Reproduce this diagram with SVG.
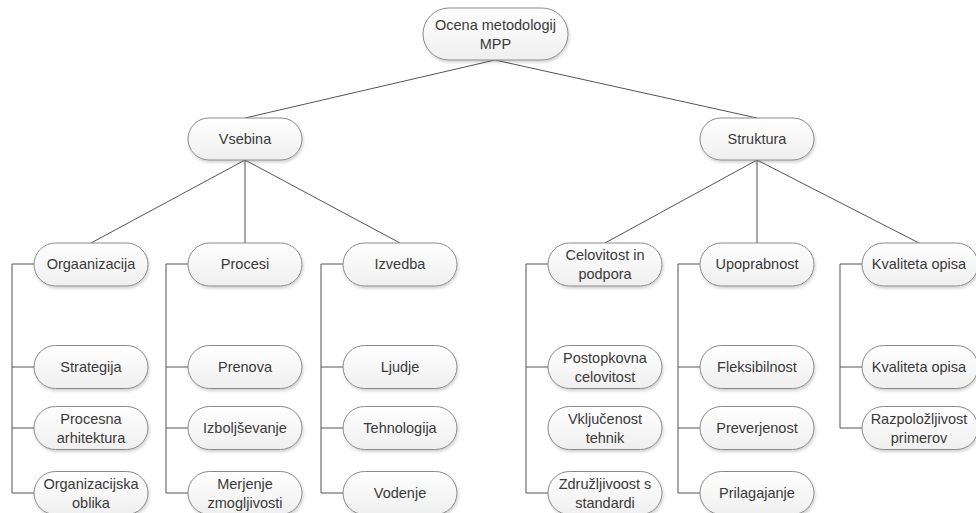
<svg xmlns="http://www.w3.org/2000/svg" width="976" height="513" viewBox="0 0 976 513">
<defs>
<linearGradient id="g" x1="0" y1="0" x2="0" y2="1">
<stop offset="0" stop-color="#ffffff"/>
<stop offset="1" stop-color="#efefef"/>
</linearGradient>
<filter id="sh" x="-10%" y="-20%" width="120%" height="150%">
<feDropShadow dx="1" dy="2" stdDeviation="1.5" flood-color="#000" flood-opacity="0.18"/>
</filter>
<style>
.n{fill:url(#g);stroke:#8a8a8a;stroke-width:1;filter:url(#sh)}
.t{font-family:"Liberation Sans",Arial,sans-serif;font-size:14.5px;fill:#3a3a3a;text-anchor:middle}
.c{fill:none;stroke:#555;stroke-width:1}
</style>
</defs>
<rect width="976" height="513" fill="#fff"/>
<g id="connectors">
<path class="c" d="M495,60 L245,118 M495,60 L757,118"/>
<path class="c" d="M245,160 L91,243 M245,160 L245,243 M245,160 L400,243"/>
<path class="c" d="M757,160 L605,243 M757,160 L757,243 M757,160 L919,243"/>
<path class="c" d="M34,264 H12 V493 H34 M12,367 H34 M12,428 H34"/>
<path class="c" d="M188,264 H166 V493 H188 M166,367 H188 M166,428 H188"/>
<path class="c" d="M343,264 H321 V493 H343 M321,367 H343 M321,428 H343"/>
<path class="c" d="M548,264 H526 V493 H548 M526,367 H548"/>
<path class="c" d="M700,264 H678 V493 H700 M678,367 H700 M678,428 H700"/>
<path class="c" d="M862,264 H840 V428 H862 M840,367 H862"/>
</g>
<g id="n-root"><rect class="n" x="423" y="8" width="145" height="52" rx="26"/><text class="t" x="495.5" y="30">Ocena metodologij</text><text class="t" x="495.5" y="49">MPP</text></g>
<g id="n-vsebina"><rect class="n" x="188" y="118" width="114" height="42" rx="21"/><text class="t" x="245" y="144">Vsebina</text></g>
<g id="n-struktura"><rect class="n" x="700" y="118" width="114" height="42" rx="21"/><text class="t" x="757" y="144">Struktura</text></g>

<g id="n-orgaanizacija"><rect class="n" x="34" y="243" width="114" height="43" rx="21.5"/><text class="t" x="91" y="269">Orgaanizacija</text></g>
<g id="n-procesi"><rect class="n" x="188" y="243" width="114" height="43" rx="21.5"/><text class="t" x="245" y="269">Procesi</text></g>
<g id="n-izvedba"><rect class="n" x="343" y="243" width="114" height="43" rx="21.5"/><text class="t" x="400" y="269">Izvedba</text></g>
<g id="n-celovitost"><rect class="n" x="548" y="243" width="114" height="43" rx="21.5"/><text class="t" x="605" y="260">Celovitost in</text><text class="t" x="605" y="279">podpora</text></g>
<g id="n-upoprabnost"><rect class="n" x="700" y="243" width="114" height="43" rx="21.5"/><text class="t" x="757" y="269">Upoprabnost</text></g>
<g id="n-kvaliteta"><rect class="n" x="862" y="243" width="116" height="43" rx="21.5"/><text class="t" x="919" y="269">Kvaliteta opisa</text></g>

<g id="n-strategija"><rect class="n" x="34" y="345.5" width="114" height="43" rx="21.5"/><text class="t" x="91" y="372">Strategija</text></g>
<g id="n-prenova"><rect class="n" x="188" y="345.5" width="114" height="43" rx="21.5"/><text class="t" x="245" y="372">Prenova</text></g>
<g id="n-ljudje"><rect class="n" x="343" y="345.5" width="114" height="43" rx="21.5"/><text class="t" x="400" y="372">Ljudje</text></g>
<g id="n-postopkovna"><rect class="n" x="548" y="345.5" width="114" height="43" rx="21.5"/><text class="t" x="605" y="363">Postopkovna</text><text class="t" x="605" y="382">celovitost</text></g>
<g id="n-fleksibilnost"><rect class="n" x="700" y="345.5" width="114" height="43" rx="21.5"/><text class="t" x="757" y="372">Fleksibilnost</text></g>
<g id="n-kvaliteta2"><rect class="n" x="862" y="345.5" width="116" height="43" rx="21.5"/><text class="t" x="919" y="372">Kvaliteta opisa</text></g>

<g id="n-procesna"><rect class="n" x="34" y="406.5" width="114" height="43" rx="21.5"/><text class="t" x="91" y="424">Procesna</text><text class="t" x="91" y="443">arhitektura</text></g>
<g id="n-izboljsevanje"><rect class="n" x="188" y="406.5" width="114" height="43" rx="21.5"/><text class="t" x="245" y="433">Izboljševanje</text></g>
<g id="n-tehnologija"><rect class="n" x="343" y="406.5" width="114" height="43" rx="21.5"/><text class="t" x="400" y="433">Tehnologija</text></g>
<g id="n-vkljucenost"><rect class="n" x="548" y="406.5" width="114" height="43" rx="21.5"/><text class="t" x="605" y="424">Vključenost</text><text class="t" x="605" y="443">tehnik</text></g>
<g id="n-preverjenost"><rect class="n" x="700" y="406.5" width="114" height="43" rx="21.5"/><text class="t" x="757" y="433">Preverjenost</text></g>
<g id="n-razpolozljivost"><rect class="n" x="862" y="406.5" width="116" height="43" rx="21.5"/><text class="t" x="919" y="424">Razpoložljivost</text><text class="t" x="919" y="443">primerov</text></g>

<g id="n-organizacijska"><rect class="n" x="34" y="471.5" width="114" height="43" rx="21.5"/><text class="t" x="91" y="489">Organizacijska</text><text class="t" x="91" y="508">oblika</text></g>
<g id="n-merjenje"><rect class="n" x="188" y="471.5" width="114" height="43" rx="21.5"/><text class="t" x="245" y="489">Merjenje</text><text class="t" x="245" y="508">zmogljivosti</text></g>
<g id="n-vodenje"><rect class="n" x="343" y="471.5" width="114" height="43" rx="21.5"/><text class="t" x="400" y="498">Vodenje</text></g>
<g id="n-zdruzljivost"><rect class="n" x="548" y="471.5" width="114" height="43" rx="21.5"/><text class="t" x="605" y="489">Združljivoost s</text><text class="t" x="605" y="508">standardi</text></g>
<g id="n-prilagajanje"><rect class="n" x="700" y="471.5" width="114" height="43" rx="21.5"/><text class="t" x="757" y="498">Prilagajanje</text></g>
</svg>
